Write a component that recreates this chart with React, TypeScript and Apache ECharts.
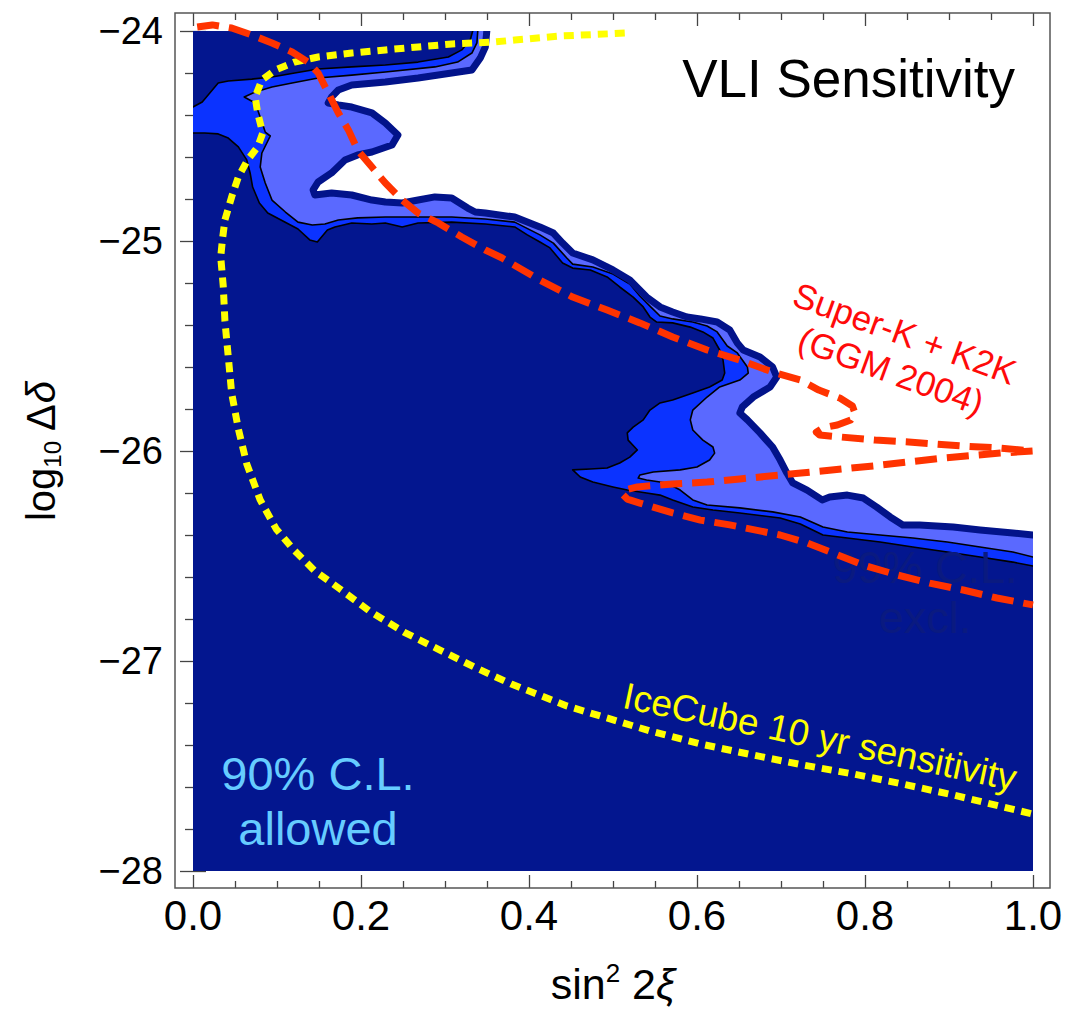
import React, { useEffect, useRef } from 'react';
import * as echarts from 'echarts';

const FONT = "'Liberation Sans', Arial, Helvetica, sans-serif";

const xTickLabels = ['0.0', '0.2', '0.4', '0.6', '0.8', '1.0'];
const yTickLabels = ['−28', '−27', '−26', '−25', '−24'];

// Full parameter region (allowed at 90% C.L. → navy)
const allowedRegion = [[0, -24], [1, -24], [1, -28], [0, -28]];

// Inner contour (navy / bright blue boundary)
const contourBlue = [
  [0.333, -23.7], [0.333, -24.0], [0.330, -24.043], [0.320, -24.090], [0.304, -24.124],
  [0.268, -24.148], [0.229, -24.162], [0.189, -24.171], [0.149, -24.181], [0.121, -24.200],
  [0.094, -24.219], [0.070, -24.229], [0.042, -24.238], [0.030, -24.248], [0.020, -24.295],
  [0.011, -24.338], [0.0, -24.362], [-0.1, -24.362], [-0.1, -24.486], [0.0, -24.486],
  [0.014, -24.486], [0.030, -24.490], [0.042, -24.510], [0.054, -24.552], [0.064, -24.614],
  [0.068, -24.676], [0.071, -24.743], [0.079, -24.819], [0.089, -24.867], [0.107, -24.905],
  [0.125, -24.943], [0.139, -24.995], [0.148, -25.005], [0.154, -24.976], [0.160, -24.948],
  [0.169, -24.933], [0.189, -24.914], [0.213, -24.919], [0.229, -24.914], [0.249, -24.933],
  [0.268, -24.914], [0.308, -24.910], [0.348, -24.919], [0.383, -24.933], [0.398, -24.971],
  [0.413, -25.005], [0.425, -25.033], [0.440, -25.105], [0.452, -25.129], [0.473, -25.138],
  [0.493, -25.171], [0.508, -25.219], [0.524, -25.267], [0.536, -25.314], [0.544, -25.362],
  [0.552, -25.386], [0.571, -25.390], [0.592, -25.410], [0.607, -25.433], [0.619, -25.462],
  [0.627, -25.519], [0.631, -25.567], [0.633, -25.629], [0.630, -25.662], [0.615, -25.695],
  [0.595, -25.724], [0.571, -25.757], [0.556, -25.771], [0.544, -25.805], [0.536, -25.852],
  [0.524, -25.886], [0.517, -25.914], [0.518, -25.948], [0.529, -25.995], [0.520, -26.029],
  [0.508, -26.057], [0.493, -26.081], [0.473, -26.086], [0.452, -26.090], [0.461, -26.124],
  [0.476, -26.148], [0.500, -26.171], [0.517, -26.186], [0.540, -26.200], [0.556, -26.210],
  [0.571, -26.233], [0.595, -26.267], [0.619, -26.281], [0.651, -26.295], [0.699, -26.319],
  [0.723, -26.348], [0.750, -26.400], [0.779, -26.414], [0.818, -26.433], [0.857, -26.457],
  [0.898, -26.481], [0.937, -26.505], [0.976, -26.529], [1.0, -26.548], [1.1, -26.548],
  [1.1, -23.7],
];

// Middle contour (bright blue / light blue boundary)
const contourLight = [
  [0.339, -23.7], [0.339, -24.0], [0.338, -24.057], [0.332, -24.105], [0.315, -24.148],
  [0.288, -24.171], [0.229, -24.195], [0.189, -24.210], [0.149, -24.224], [0.118, -24.248],
  [0.094, -24.267], [0.074, -24.290], [0.061, -24.314], [0.074, -24.343], [0.080, -24.410],
  [0.086, -24.481], [0.092, -24.500], [0.082, -24.581], [0.080, -24.648], [0.086, -24.724],
  [0.094, -24.805], [0.110, -24.862], [0.125, -24.910], [0.142, -24.924], [0.157, -24.919],
  [0.173, -24.900], [0.196, -24.890], [0.229, -24.886], [0.268, -24.886], [0.308, -24.886],
  [0.348, -24.895], [0.383, -24.910], [0.413, -24.971], [0.429, -25.010], [0.445, -25.081],
  [0.452, -25.110], [0.476, -25.124], [0.500, -25.157], [0.520, -25.205], [0.532, -25.262],
  [0.544, -25.310], [0.556, -25.357], [0.571, -25.371], [0.595, -25.386], [0.612, -25.405],
  [0.624, -25.433], [0.636, -25.500], [0.648, -25.533], [0.660, -25.600], [0.661, -25.629],
  [0.651, -25.662], [0.627, -25.695], [0.612, -25.743], [0.595, -25.805], [0.592, -25.852],
  [0.595, -25.900], [0.607, -25.948], [0.619, -25.981], [0.621, -26.010], [0.615, -26.043],
  [0.600, -26.076], [0.580, -26.090], [0.548, -26.100], [0.532, -26.114], [0.530, -26.129],
  [0.540, -26.138], [0.564, -26.152], [0.580, -26.186], [0.595, -26.233], [0.612, -26.257],
  [0.651, -26.271], [0.690, -26.290], [0.723, -26.314], [0.750, -26.362], [0.779, -26.386],
  [0.818, -26.400], [0.857, -26.414], [0.898, -26.433], [0.937, -26.457], [0.976, -26.481],
  [1.0, -26.505], [1.1, -26.505], [1.1, -23.7],
];

// Outer contour (excluded region, white)
const contourExcluded = [
  [0.350, -23.7], [0.350, -23.99], [0.348, -24.076], [0.342, -24.129], [0.332, -24.186],
  [0.308, -24.200], [0.268, -24.224], [0.229, -24.243], [0.189, -24.257], [0.173, -24.281],
  [0.165, -24.314], [0.161, -24.343], [0.173, -24.352], [0.189, -24.362], [0.213, -24.390],
  [0.229, -24.438], [0.244, -24.495], [0.237, -24.543], [0.213, -24.576], [0.196, -24.590],
  [0.181, -24.614], [0.165, -24.676], [0.149, -24.719], [0.143, -24.757], [0.145, -24.781],
  [0.165, -24.771], [0.189, -24.781], [0.213, -24.805], [0.229, -24.814], [0.249, -24.819],
  [0.268, -24.805], [0.288, -24.790], [0.308, -24.795], [0.327, -24.843], [0.336, -24.862],
  [0.348, -24.867], [0.383, -24.886], [0.413, -24.933], [0.429, -24.962], [0.440, -25.010],
  [0.452, -25.057], [0.476, -25.090], [0.500, -25.138], [0.520, -25.186], [0.540, -25.267],
  [0.556, -25.314], [0.571, -25.338], [0.588, -25.362], [0.604, -25.371], [0.624, -25.386],
  [0.639, -25.424], [0.648, -25.486], [0.655, -25.519], [0.675, -25.552], [0.690, -25.600],
  [0.695, -25.648], [0.687, -25.695], [0.667, -25.743], [0.654, -25.790], [0.651, -25.819],
  [0.660, -25.852], [0.675, -25.914], [0.690, -25.981], [0.699, -26.043], [0.707, -26.105],
  [0.714, -26.152], [0.731, -26.186], [0.749, -26.233], [0.758, -26.219], [0.779, -26.210],
  [0.798, -26.224], [0.814, -26.267], [0.830, -26.314], [0.845, -26.352], [0.865, -26.352],
  [0.905, -26.362], [0.937, -26.376], [0.976, -26.390], [1.0, -26.400], [1.1, -26.400],
  [1.1, -23.7],
];

// Super-K + K2K (GGM 2004) boundary
const superK = [
  [0.005, -23.981], [0.023, -23.971], [0.046, -23.986], [0.070, -24.019], [0.094, -24.057],
  [0.118, -24.100], [0.137, -24.148], [0.149, -24.200], [0.161, -24.295], [0.173, -24.390],
  [0.185, -24.471], [0.196, -24.567], [0.213, -24.648], [0.229, -24.724], [0.249, -24.805],
  [0.268, -24.867], [0.292, -24.914], [0.320, -24.981], [0.348, -25.043], [0.368, -25.081],
  [0.413, -25.186], [0.452, -25.267], [0.493, -25.329], [0.532, -25.390], [0.571, -25.457],
  [0.612, -25.519], [0.651, -25.567], [0.690, -25.624], [0.723, -25.662], [0.745, -25.710],
  [0.770, -25.748], [0.785, -25.786], [0.788, -25.819], [0.783, -25.852], [0.767, -25.876],
  [0.750, -25.890], [0.742, -25.910], [0.746, -25.924], [0.770, -25.933], [0.812, -25.948],
  [0.852, -25.957], [0.915, -25.976], [0.961, -25.986], [1.0, -26.0], [0.961, -26.010],
  [0.894, -26.033], [0.810, -26.071], [0.724, -26.105], [0.651, -26.133], [0.612, -26.148],
  [0.571, -26.157], [0.529, -26.171], [0.514, -26.186], [0.511, -26.205], [0.517, -26.229],
  [0.532, -26.248], [0.571, -26.295], [0.604, -26.329], [0.639, -26.352], [0.699, -26.400],
  [0.731, -26.438], [0.762, -26.486], [0.798, -26.543], [0.838, -26.590], [0.877, -26.629],
  [0.917, -26.662], [0.957, -26.700], [1.0, -26.733],
];

// IceCube 10 yr sensitivity
const iceCube = [
  [0.514, -24.010], [0.437, -24.024], [0.383, -24.043], [0.360, -24.052], [0.308, -24.062],
  [0.268, -24.076], [0.229, -24.090], [0.189, -24.105], [0.149, -24.124], [0.121, -24.148],
  [0.098, -24.186], [0.082, -24.233], [0.074, -24.314], [0.077, -24.390], [0.083, -24.486],
  [0.077, -24.552], [0.065, -24.614], [0.054, -24.695], [0.046, -24.790], [0.038, -24.900],
  [0.035, -24.995], [0.033, -25.076], [0.036, -25.214], [0.038, -25.381], [0.042, -25.552],
  [0.046, -25.724], [0.054, -25.895], [0.064, -26.062], [0.080, -26.233], [0.099, -26.371],
  [0.120, -26.471], [0.145, -26.571], [0.175, -26.657], [0.210, -26.762], [0.251, -26.862],
  [0.294, -26.948], [0.337, -27.033], [0.379, -27.110], [0.445, -27.214], [0.485, -27.262],
  [0.544, -27.333], [0.604, -27.395], [0.667, -27.448], [0.726, -27.495], [0.786, -27.538],
  [0.845, -27.586], [0.905, -27.638], [1.0, -27.729],
];

const NAVY = '#03168f';
const NAVY_EDGE = '#02138a';
const BLUE = '#0b33ff';
const LIGHT = '#5a69ff';

export default function App() {
  const ref = useRef<HTMLDivElement>(null);
  useEffect(() => {
    const chart = echarts.init(ref.current as HTMLDivElement, null, { renderer: 'svg' });
    const tickStyle = { color: '#444', width: 1.3 };
    const commonX = {
      type: 'value', min: 0, max: 1, interval: 0.2,
      axisLine: { show: false },
      axisTick: { show: true, inside: true, length: 13, lineStyle: tickStyle },
      minorTick: { show: true, splitNumber: 4, length: 7, lineStyle: tickStyle },
      splitLine: { show: false }, minorSplitLine: { show: false },
    };
    const commonY = {
      type: 'value', min: -28, max: -24, interval: 1,
      axisLine: { show: false },
      axisTick: { show: true, inside: true, length: 13, lineStyle: tickStyle },
      minorTick: { show: true, splitNumber: 5, length: 8, lineStyle: tickStyle },
      splitLine: { show: false }, minorSplitLine: { show: false },
    };
    chart.setOption({
      animation: false,
      backgroundColor: '#ffffff',
      grid: { left: 193, top: 31, width: 840, height: 840, containLabel: false },
      xAxis: [
        {
          ...commonX, position: 'bottom', offset: 17,
          axisLabel: {
            formatter: (v: number) => xTickLabels[Math.round(v / 0.2)],
            fontSize: 42, lineHeight: 42, color: '#000', fontFamily: FONT, margin: 6,
          },
          name: '{a|sin}{s|2}{a| 2}{i|ξ}', nameLocation: 'middle', nameGap: 72,
          nameTextStyle: {
            rich: {
              a: { fontSize: 43, lineHeight: 48, fontFamily: FONT, color: '#000' },
              s: { fontSize: 26, lineHeight: 32, fontFamily: FONT, color: '#000', verticalAlign: 'top' },
              i: { fontSize: 43, lineHeight: 48, fontFamily: FONT, color: '#000', fontStyle: 'italic' },
            },
          },
        },
        { ...commonX, position: 'top', offset: 18, axisLabel: { show: false } },
      ],
      yAxis: [
        {
          ...commonY, position: 'left', offset: 18,
          axisLabel: {
            formatter: (v: number) => yTickLabels[Math.round(v + 28)],
            fontSize: 38, color: '#000', fontFamily: FONT, margin: 12,
          },
          name: '{a|log}{b|10}{a| Δ}{i|δ}', nameLocation: 'middle', nameGap: 111, nameRotate: 90,
          nameTextStyle: {
            rich: {
              a: { fontSize: 40, lineHeight: 46, fontFamily: FONT, color: '#000' },
              b: { fontSize: 24, lineHeight: 23, fontFamily: FONT, color: '#000', verticalAlign: 'bottom' },
              i: { fontSize: 40, lineHeight: 46, fontFamily: FONT, color: '#000', fontStyle: 'italic' },
            },
          },
        },
        { ...commonY, position: 'right', offset: 17, axisLabel: { show: false } },
      ],
      series: [
        {
          type: 'custom', coordinateSystem: 'cartesian2d', clip: true, silent: true, z: 1,
          data: [[0.5, -26]],
          renderItem: (params: any, api: any) => {
            const pts = (arr: number[][]) => arr.map((p) => api.coord(p));
            return {
              type: 'group',
              children: [
                { type: 'polygon', shape: { points: pts(allowedRegion) }, style: { fill: NAVY } },
                { type: 'polygon', shape: { points: pts(contourBlue) }, style: { fill: BLUE, stroke: '#000', lineWidth: 1.6, lineJoin: 'round' } },
                { type: 'polygon', shape: { points: pts(contourLight) }, style: { fill: LIGHT, stroke: '#000', lineWidth: 1.6, lineJoin: 'round' } },
                { type: 'polygon', shape: { points: pts(contourExcluded) }, style: { fill: '#ffffff', stroke: NAVY_EDGE, lineWidth: 7, lineJoin: 'round' } },
              ],
            };
          },
        },
        {
          type: 'line', data: iceCube, showSymbol: false, symbol: 'none', clip: false, z: 3, silent: true,
          lineStyle: { color: '#ffff00', width: 7, type: [10, 7], cap: 'butt', join: 'round' },
        },
        {
          type: 'line', data: superK, showSymbol: false, symbol: 'none', clip: false, z: 4, silent: true,
          lineStyle: { color: '#ff3300', width: 7, type: [22, 10], cap: 'butt', join: 'round' },
        },
      ],
      graphic: {
        elements: [
          {
            type: 'rect', z: 10, silent: true,
            shape: { x: 175, y: 13, width: 875, height: 875 },
            style: { fill: 'none', stroke: '#555', lineWidth: 1.5 },
          },
          {
            type: 'text', z: 10, x: 1015, y: 78,
            style: { text: 'VLI Sensitivity', fontSize: 53, fontFamily: FONT, fill: '#000', align: 'right', verticalAlign: 'middle' },
          },
          {
            type: 'text', z: 2, x: 925, y: 592,
            style: { text: '99% C.L.\nexcl.', fontSize: 45, lineHeight: 50, fontFamily: FONT, fill: '#0a1a80', align: 'center', verticalAlign: 'middle' },
          },
          {
            type: 'text', z: 10, x: 318, y: 801,
            style: { text: '90% C.L.\nallowed', fontSize: 47, lineHeight: 55, fontFamily: FONT, fill: '#66ccff', align: 'center', verticalAlign: 'middle' },
          },
          {
            type: 'text', z: 10, x: 898, y: 352, rotation: -0.35,
            style: { text: 'Super-K + K2K\n(GGM 2004)', fontSize: 35, lineHeight: 40, fontFamily: FONT, fill: '#ff0a0a', align: 'center', verticalAlign: 'middle' },
          },
          {
            type: 'text', z: 10, x: 820, y: 737, rotation: -0.21,
            style: { text: 'IceCube 10 yr sensitivity', fontSize: 37, fontFamily: FONT, fill: '#ffff00', align: 'center', verticalAlign: 'middle' },
          },
        ],
      },
    });
    return () => chart.dispose();
  }, []);
  return (
    <div
      ref={ref}
      style={{ position: 'absolute', left: 0, top: 0, width: 1072, height: 1015, background: '#fff' }}
    />
  );
}
